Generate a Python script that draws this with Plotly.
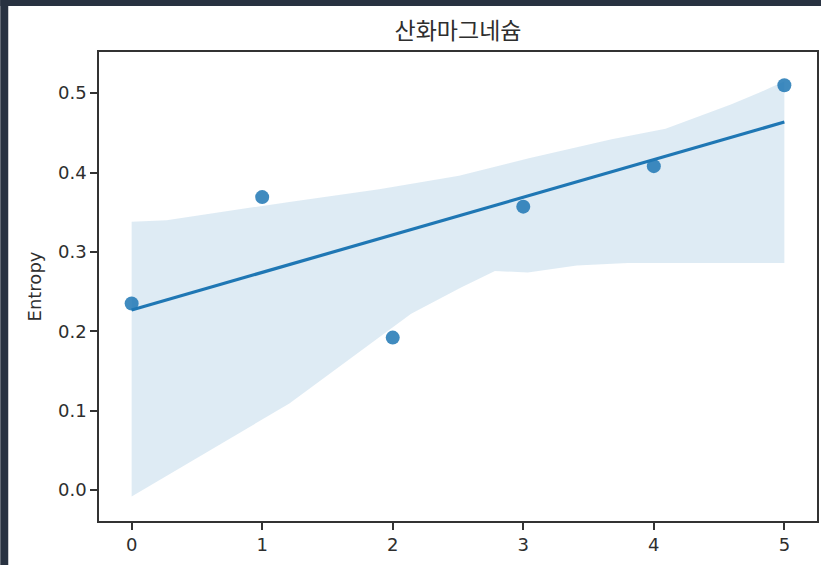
import numpy as np
import plotly.graph_objects as go

title = "산화마그네슘"
x_vals = [0, 1, 2, 3, 4, 5]
entropy = [0.235, 0.369, 0.192, 0.357, 0.408, 0.510]

ci_upper_x = [0.0, 0.268, 1.208, 1.896, 2.508, 3.043, 3.677, 4.090, 4.595, 4.801, 5.0]
ci_upper = [0.338, 0.340, 0.363, 0.379, 0.396, 0.418, 0.442, 0.455, 0.486, 0.500, 0.515]
ci_lower_x = [0.0, 1.208, 2.141, 2.523, 2.783, 3.035, 3.41, 3.8, 5.0]
ci_lower = [-0.008, 0.109, 0.222, 0.255, 0.276, 0.274, 0.283, 0.286, 0.286]

x_ticks = [0, 1, 2, 3, 4, 5]
y_ticks = [0.0, 0.1, 0.2, 0.3, 0.4, 0.5]

blue = "#1f77b4"
dark = "#283241"
txt = "#2e2e2e"

slope, intercept = np.polyfit(x_vals, entropy, 1)
fit_x = np.array([min(x_vals), max(x_vals)])
fit_y = slope * fit_x + intercept

fig = go.Figure()
fig.add_trace(go.Scatter(
    x=ci_upper_x + ci_lower_x[::-1], y=ci_upper + ci_lower[::-1],
    fill="toself", fillcolor="rgba(31,119,180,0.15)", line=dict(width=0),
    mode="lines", hoverinfo="skip", showlegend=False))
fig.add_trace(go.Scatter(x=x_vals, y=entropy, mode="markers",
                         marker=dict(size=14, color=blue, opacity=0.85, line=dict(width=0)),
                         showlegend=False))
fig.add_trace(go.Scatter(x=fit_x, y=fit_y, mode="lines",
                         line=dict(color=blue, width=3.2), showlegend=False))

L, R, T, B = 99, 4, 52, 44
W, H = 823, 565
pw, ph = W - L - R, H - T - B

def px(p):
    return (p - L) / pw

def py(p):
    return (H - B - p) / ph

tickfont = dict(family="DejaVu Sans, sans-serif", size=18, color=txt)

fig.update_layout(
    width=W, height=H,
    margin=dict(l=L, r=R, t=T, b=B),
    paper_bgcolor="white", plot_bgcolor="white",
    font=dict(family="Noto Sans CJK KR, Noto Sans, sans-serif", color=txt),
    title=dict(text=title, x=px(459), xanchor="center", xref="paper",
               y=1 - 31 / H, yanchor="middle",
               font=dict(family="Noto Sans CJK KR", size=23, color=txt)),
    xaxis=dict(range=[-0.25, 5.25], tickvals=x_ticks, ticks="outside", ticklen=7,
               tickwidth=1.5, tickcolor="#333333", showline=True, linecolor="#333333",
               linewidth=1.6, mirror=True, showgrid=False, zeroline=False,
               tickfont=tickfont),
    yaxis=dict(range=[-0.039, 0.5518], tickvals=y_ticks, tickformat=".1f", ticks="outside",
               ticklen=7, tickwidth=1.5, tickcolor="#333333", showline=True,
               linecolor="#333333", linewidth=1.6, mirror=True, showgrid=False,
               zeroline=False, tickfont=tickfont,
               title=dict(text="Entropy",
                          font=dict(family="DejaVu Sans, sans-serif", size=18, color=txt),
                          standoff=12)),
    shapes=[
        dict(type="rect", xref="paper", yref="paper", x0=px(0), x1=px(8), y0=py(H), y1=py(0),
             fillcolor=dark, line=dict(width=0), layer="above"),
        dict(type="rect", xref="paper", yref="paper", x0=px(0), x1=px(W), y0=py(6), y1=py(0),
             fillcolor=dark, line=dict(width=0), layer="above"),
    ],
)

fig.write_html(
    "out.html",
    config={"displayModeBar": False},
    post_script="document.body.style.margin='0';document.body.style.overflow='hidden';",
)
